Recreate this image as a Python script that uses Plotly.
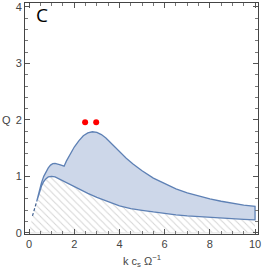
import plotly.graph_objects as go

# Lower boundary (solid part)
k_low = [0.34, 0.45, 0.55, 0.65, 0.75, 0.85, 1.0, 1.15, 1.3, 1.5, 1.75, 2.0, 2.3, 2.6, 3.0, 3.5,
         4.0, 4.5, 5.0, 5.5, 6.0, 6.5, 7.0, 7.5, 8.0, 8.5, 9.0, 9.5, 10.0]
q_low = [0.56, 0.72, 0.83, 0.91, 0.96, 0.99, 1.0, 0.99, 0.97, 0.93, 0.88, 0.82, 0.76, 0.70, 0.63, 0.55,
         0.48, 0.43, 0.40, 0.37, 0.34, 0.32, 0.30, 0.285, 0.27, 0.26, 0.25, 0.24, 0.23]

# Dashed start of lower boundary
k_dash = [0.15, 0.34]
q_dash = [0.30, 0.56]

# Upper boundary
k_up = [0.34, 0.45, 0.55, 0.65, 0.75, 0.85, 0.95, 1.05, 1.15, 1.25, 1.35, 1.45, 1.55, 1.65, 1.8, 2.0,
        2.2, 2.4, 2.6, 2.8, 3.0, 3.2, 3.4, 3.7, 4.0, 4.3, 4.6, 5.0, 5.5, 6.0, 6.5, 7.0, 7.5, 8.0,
        8.5, 9.0, 9.5, 10.0]
q_up = [0.56, 0.74, 0.89, 1.0, 1.09, 1.15, 1.2, 1.225, 1.23, 1.225, 1.21, 1.195, 1.18, 1.27, 1.38, 1.52,
        1.63, 1.72, 1.77, 1.79, 1.78, 1.74, 1.68, 1.56, 1.43, 1.32, 1.22, 1.10, 0.97, 0.87, 0.78, 0.71, 0.65, 0.60,
        0.56, 0.52, 0.49, 0.47]

# Red points
k_pts = [2.48, 2.97]
q_pts = [1.96, 1.96]

line_col = "#5E81B5"
fill_col = "#CDD7E9"

fig = go.Figure()

# hatched region under lower curve
hx = [0.0] + k_dash + k_low[1:] + [10.0, 0.0]
hy = [0.0] + q_dash + q_low[1:] + [0.0, 0.0]
fig.add_trace(go.Scatter(
    x=hx, y=hy, mode="lines", fill="toself",
    fillcolor="rgba(255,255,255,0)",
    fillpattern=dict(shape="\\", fgcolor="#ABABAB", bgcolor="rgba(255,255,255,0)", size=5, solidity=0.2),
    line=dict(width=0), hoverinfo="skip", showlegend=False))

# faint baseline of hatched region
fig.add_trace(go.Scatter(x=[0, 10], y=[0, 0], mode="lines",
                         line=dict(color="#E3E3E3", width=1), showlegend=False))

# filled band
bx = k_up + k_low[::-1]
by = q_up + q_low[::-1]
fig.add_trace(go.Scatter(x=bx, y=by, mode="lines", fill="toself",
                         fillcolor=fill_col, line=dict(color=line_col, width=1.3),
                         showlegend=False))

fig.add_trace(go.Scatter(x=k_dash, y=q_dash, mode="lines",
                         line=dict(color="#3F5F8F", width=1.2, dash="3px,2px"), showlegend=False))

fig.add_trace(go.Scatter(x=k_pts, y=q_pts, mode="markers",
                         marker=dict(color="#FF0000", size=6), showlegend=False))

axis_common = dict(
    showline=True, linecolor="#444444", linewidth=1, mirror="allticks",
    ticks="inside", ticklen=5, tickcolor="#555555", tickwidth=1,
    showgrid=False, zeroline=False, ticklabeloverflow="allow",
    tickfont=dict(family="Liberation Sans, Arial", size=11, color="#444444"),
)

fig.update_xaxes(range=[-0.18, 10.13], tickvals=[0, 2, 4, 6, 8, 10],
                 minor=dict(dtick=0.5, ticklen=3, tickcolor="#777777", ticks="inside"),
                 **axis_common)
fig.update_yaxes(range=[-0.02, 4.07], tickvals=[0, 1, 2, 3, 4],
                 minor=dict(dtick=0.2, ticklen=3, tickcolor="#777777", ticks="inside"),
                 **axis_common)

fig.add_annotation(x=0.075, y=0.95, xref="paper", yref="paper", text="C",
                   showarrow=False, font=dict(family="Open Sans, Arial", size=19, color="black"),
                   xanchor="center", yanchor="middle")
fig.add_annotation(x=-0.08, y=2, xref="paper", yref="y", text="Q",
                   showarrow=False, font=dict(family="Liberation Sans, Arial", size=11, color="#444444"),
                   xanchor="center", yanchor="middle")
fig.add_annotation(x=0.5, y=-0.118, xref="paper", yref="paper",
                   text="k c<sub>s</sub> Ω<sup>−1</sup>",
                   showarrow=False, font=dict(family="Liberation Sans, Arial", size=11, color="#444444"),
                   xanchor="center", yanchor="middle")

fig.update_layout(width=262, height=268, margin=dict(l=25, r=3, t=1, b=34),
                  plot_bgcolor="white", paper_bgcolor="white")

fig.write_html("out.html", config={"displayModeBar": False},
               post_script="document.body.style.margin='0';document.body.style.padding='0';document.body.style.overflow='hidden';")
